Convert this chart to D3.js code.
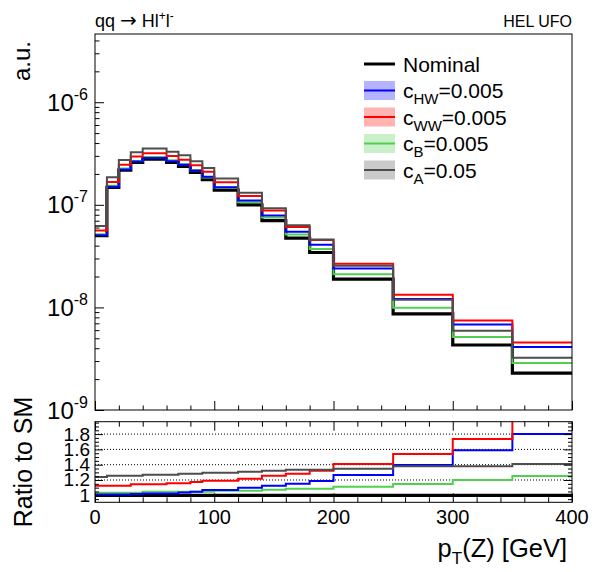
<!DOCTYPE html>
<html><head><meta charset="utf-8">
<script src="https://cdn.jsdelivr.net/npm/d3@7/dist/d3.min.js"></script>
<style>body{margin:0;background:#fff}svg{display:block}text{font-family:"Liberation Sans",Arial,Helvetica,sans-serif;fill:#000}</style>
</head><body><svg id="c" width="596" height="572"></svg>
<script>
// ---- data ----
const edges = [0,10,20,30,40,60,70,80,90,100,120,140,160,180,200,250,300,350,400];
const nominal = [5.0e-8,1.48e-7,2.18e-7,2.59e-7,2.79e-7,2.59e-7,2.37e-7,2.07e-7,1.76e-7,1.39e-7,1.0e-7,7.0e-8,4.74e-8,3.43e-8,1.89e-8,8.63e-9,4.30e-9,2.29e-9];
const cHW = [5.06e-8,1.498e-7,2.206e-7,2.637e-7,2.860e-7,2.655e-7,2.453e-7,2.163e-7,1.881e-7,1.486e-7,1.10e-7,7.88e-8,5.46e-8,4.07e-8,2.39e-8,1.205e-8,6.83e-9,4.12e-9];
const cWW = [5.63e-8,1.666e-7,2.455e-7,2.960e-7,3.189e-7,2.997e-7,2.742e-7,2.430e-7,2.096e-7,1.655e-7,1.217e-7,8.79e-8,6.08e-8,4.53e-8,2.665e-8,1.329e-8,7.47e-9,4.56e-9];
const cB  = [5.17e-8,1.530e-7,2.254e-7,2.678e-7,2.921e-7,2.712e-7,2.481e-7,2.167e-7,1.843e-7,1.473e-7,1.06e-7,7.51e-8,5.15e-8,3.72e-8,2.10e-8,9.91e-9,5.16e-9,2.87e-9];
const cA  = [6.20e-8,1.857e-7,2.736e-7,3.250e-7,3.543e-7,3.289e-7,3.041e-7,2.656e-7,2.281e-7,1.801e-7,1.309e-7,9.25e-8,6.33e-8,4.58e-8,2.55e-8,1.19e-8,5.93e-9,3.23e-9];
const ratioNom = [1,1,1,1,1,1,1,1,1,1,1,1,1,1,1,1,1,1];
const ratioHW = [1.012,1.012,1.012,1.018,1.025,1.025,1.035,1.045,1.069,1.069,1.10,1.126,1.152,1.187,1.265,1.396,1.588,1.80];
const ratioWW = [1.126,1.126,1.126,1.143,1.143,1.157,1.157,1.174,1.191,1.191,1.217,1.256,1.283,1.322,1.41,1.54,1.736,1.99];
const ratioB  = [1.034,1.034,1.034,1.034,1.047,1.047,1.047,1.047,1.047,1.06,1.06,1.073,1.086,1.084,1.113,1.148,1.20,1.252];
const ratioA  = [1.24,1.255,1.255,1.255,1.27,1.27,1.283,1.283,1.296,1.296,1.309,1.322,1.335,1.335,1.348,1.379,1.379,1.41];
const xTicks = [0,100,200,300,400];
const yDecades = [1e-9,1e-8,1e-7,1e-6];
const decadeExp = ["-9","-8","-7","-6"];
const ratioTicks = [1,1.2,1.4,1.6,1.8];
const ratioGrid = [1.2,1.4,1.6,1.8];
const legendItems = [
  {name:"Nominal", sub:"", val:"", color:"#000000", fill:null},
  {name:"c", sub:"HW", val:"=0.005", color:"#0000ff", fill:"#b3b3ff"},
  {name:"c", sub:"WW", val:"=0.005", color:"#ff0000", fill:"#ffb3b3"},
  {name:"c", sub:"B", val:"=0.005", color:"#4fd14f", fill:"#caf0ca"},
  {name:"c", sub:"A", val:"=0.05", color:"#4d4d4d", fill:"#cacaca"}
];

// ---- layout ----
const L=95, R=572, T=34, B=410, T2=421.7, B2=502.3;
const svg = d3.select("#c");
svg.append("rect").attr("width",596).attr("height",572).attr("fill","#fff");
const x = d3.scaleLinear().domain([0,400]).range([L,R]);
const y = d3.scaleLog().domain([1e-9, Math.pow(10,-5.335)]).range([B,T]);
const yr = d3.scaleLinear().domain([0.9085,1.962]).range([B2,T2]);

svg.append("defs").append("clipPath").attr("id","clipTop").append("rect").attr("x",L).attr("y",T).attr("width",R-L).attr("height",B-T);
d3.select("defs").append("clipPath").attr("id","clipR").append("rect").attr("x",L).attr("y",T2).attr("width",R-L).attr("height",B2-T2);

function stepPts(vals){ return vals.flatMap((v,i)=>[[edges[i],v],[edges[i+1],v]]); }
const lineTop = d3.line().x(d=>x(d[0])).y(d=>y(d[1]));
const lineR = d3.line().x(d=>x(d[0])).y(d=>yr(d[1]));

// ---- top panel histograms ----
const gTop = svg.append("g").attr("clip-path","url(#clipTop)");
const series = [
  {v:nominal,c:"#000000",w:3.2},
  {v:cB,c:"#4fd14f",w:2},
  {v:cHW,c:"#0000ff",w:2},
  {v:cWW,c:"#ff0000",w:2},
  {v:cA,c:"#4d4d4d",w:2}
];
series.forEach(s=>{
  gTop.append("path").attr("d",lineTop(stepPts(s.v))).attr("fill","none").attr("stroke",s.c).attr("stroke-width",s.w);
});

svg.append("rect").attr("x",L).attr("y",T).attr("width",R-L).attr("height",B-T).attr("fill","none").attr("stroke","#000").attr("stroke-width",1);

const xMinor = d3.range(0,401,20);
svg.append("g").attr("transform",`translate(0,${B})`)
  .call(d3.axisBottom(x).tickValues(xMinor).tickSizeInner(0).tickSizeOuter(0).tickFormat(""))
  .call(g=>{g.select(".domain").remove();
    g.selectAll(".tick line").attr("y2",d=>d%100===0?-9:-4.5).attr("stroke","#000");});

const yAll = y.ticks();
svg.append("g").attr("transform",`translate(${L},0)`)
  .call(d3.axisLeft(y).tickValues(yAll).tickSizeInner(0).tickSizeOuter(0).tickFormat(""))
  .call(g=>{g.select(".domain").remove();
    g.selectAll(".tick line").attr("x2",d=>{const e=Math.log10(d);return Math.abs(e-Math.round(e))<1e-6?9:4.5;}).attr("stroke","#000");});

yDecades.forEach((d,i)=>{
  const t = svg.append("text").attr("x",88).attr("y",y(d)+8.5).attr("text-anchor","end");
  t.append("tspan").attr("font-size",24).text("10");
  t.append("tspan").attr("font-size",16).attr("dy",-11).text(decadeExp[i]);
});

// ---- ratio panel ----
const gR = svg.append("g");
ratioGrid.forEach(v=>{
  gR.append("line").attr("x1",L).attr("x2",R).attr("y1",yr(v)).attr("y2",yr(v)).attr("stroke","#000").attr("stroke-width",1).attr("stroke-dasharray","1,2");
});
const gRc = svg.append("g").attr("clip-path","url(#clipR)");
const rseries = [
  {v:ratioNom,c:"#000000",w:3.2},
  {v:ratioB,c:"#4fd14f",w:2},
  {v:ratioHW,c:"#0000ff",w:2},
  {v:ratioWW,c:"#ff0000",w:2},
  {v:ratioA,c:"#4d4d4d",w:2}
];
rseries.forEach(s=>{
  gRc.append("path").attr("d",lineR(stepPts(s.v))).attr("fill","none").attr("stroke",s.c).attr("stroke-width",s.w);
});
svg.append("rect").attr("x",L).attr("y",T2).attr("width",R-L).attr("height",B2-T2).attr("fill","none").attr("stroke","#000").attr("stroke-width",1);

[[B2,-1],[T2,1]].forEach(([yy,dir])=>{
  svg.append("g").attr("transform",`translate(0,${yy})`)
    .call(d3.axisBottom(x).tickValues(xMinor).tickSizeInner(0).tickSizeOuter(0).tickFormat(""))
    .call(g=>{g.select(".domain").remove();
      g.selectAll(".tick line").attr("y2",d=>dir*(d%100===0?9:5)).attr("stroke","#000");});
});
const rMinor = d3.range(0,22).map(i=>0.95+i*0.05).filter(v=>v>yr.domain()[0]&&v<yr.domain()[1]);
[[L,1],[R,-1]].forEach(([xx,dir])=>{
  svg.append("g").attr("transform",`translate(${xx},0)`)
    .call(d3.axisLeft(yr).tickValues(rMinor).tickSizeInner(0).tickSizeOuter(0).tickFormat(""))
    .call(g=>{g.select(".domain").remove();
      g.selectAll(".tick line").attr("x2",d=>{const m=Math.abs(d*5-Math.round(d*5))<1e-6;return dir*(m?8:4);}).attr("stroke","#000");});
});
ratioTicks.forEach(v=>{
  svg.append("text").attr("x",90).attr("y",yr(v)+6.5).attr("text-anchor","end").attr("font-size",19).text(String(v));
});
xTicks.forEach(v=>{
  svg.append("text").attr("x",x(v)).attr("y",524).attr("text-anchor","middle").attr("font-size",20).text(String(v));
});

// ---- axis titles ----
const xt = svg.append("text").attr("x",567).attr("y",557).attr("text-anchor","end").attr("font-size",25.5);
xt.append("tspan").text("p");
xt.append("tspan").attr("font-size",17).attr("dy",7).text("T");
xt.append("tspan").attr("dy",-7).text("(Z) [GeV]");

svg.append("text").attr("transform","translate(30,41) rotate(-90)").attr("text-anchor","end").attr("font-size",24).text("a.u.");
svg.append("text").attr("transform",`translate(32,${(T2+B2)/2}) rotate(-90)`).attr("text-anchor","middle").attr("font-size",25).text("Ratio to SM");

const tt = svg.append("text").attr("x",95).attr("y",27).attr("font-size",18);
tt.append("tspan").text("qq ");
tt.append("tspan").attr("font-family","DejaVu Sans").attr("font-size",20).text("\u2192");
tt.append("tspan").text(" Hl");
tt.append("tspan").attr("font-size",12).attr("dy",-7).text("+");
tt.append("tspan").attr("dy",7).text("l");
tt.append("tspan").attr("font-size",12).attr("dy",-7).text("-");
svg.append("text").attr("x",572).attr("y",27).attr("text-anchor","end").attr("font-size",16).text("HEL UFO");

// ---- legend ----
const legY0 = 64, legDy = 26.5;
legendItems.forEach((it,i)=>{
  const cy = legY0 + i*legDy;
  const g = svg.append("g");
  if(it.fill){
    g.append("rect").attr("x",364).attr("y",cy-9.5).attr("width",31).attr("height",19).attr("fill",it.fill);
  }
  g.append("line").attr("x1",364).attr("x2",395).attr("y1",cy).attr("y2",cy).attr("stroke",it.color).attr("stroke-width",it.fill?2:3);
  const t = g.append("text").attr("x",403).attr("y",cy+7.5).attr("font-size",21);
  t.append("tspan").text(it.name);
  if(it.sub){
    t.append("tspan").attr("font-size",15).attr("dy",6).text(it.sub);
    t.append("tspan").attr("dy",-6).text(it.val);
  }
});
</script></body></html>
